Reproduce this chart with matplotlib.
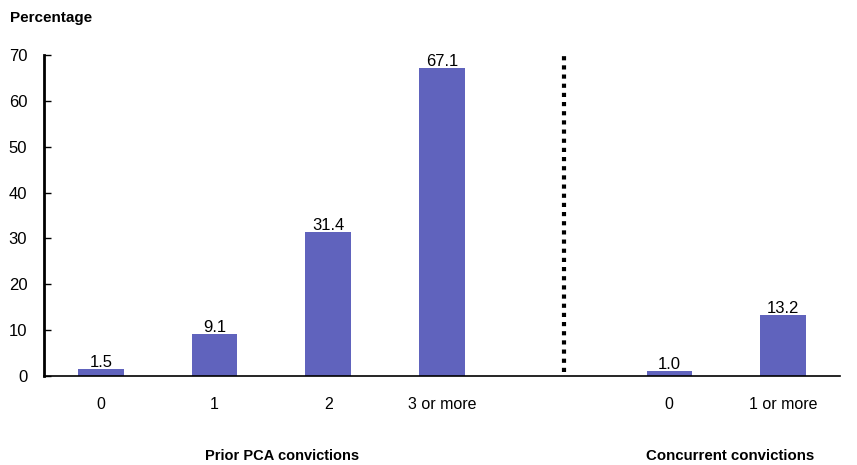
'''Percentage bar chart of prior PCA and concurrent convictions.'''

import matplotlib
matplotlib.use('Agg')
import matplotlib.pyplot as plt

plt.rcParams['font.family'] = ['Liberation Sans', 'DejaVu Sans']

# Data
prior_labels = ['0', '1', '2', '3 or more']
prior_values = [1.5, 9.1, 31.4, 67.1]
concurrent_labels = ['0', '1 or more']
concurrent_values = [1.0, 13.2]
group_titles = ['Prior PCA convictions', 'Concurrent convictions']
y_ticks = [0, 10, 20, 30, 40, 50, 60, 70]

BAR_COLOR = '#6063BD'


def main():
    fig = plt.figure(figsize=(8.57, 4.65), dpi=100)
    ax = fig.add_axes([0.0513, 0.1914, 0.9287, 0.6903])

    # Slot 4 is left empty as a gap between the two groups
    prior_pos = list(range(len(prior_values)))
    conc_pos = [len(prior_values) + 1 + i for i in range(len(concurrent_values))]
    positions = prior_pos + conc_pos
    values = prior_values + concurrent_values
    labels = prior_labels + concurrent_labels

    bars = ax.bar(positions, values, width=0.4, color=BAR_COLOR, zorder=2)
    for bar, val in zip(bars, values):
        ax.text(bar.get_x() + bar.get_width() / 2, val - 0.2,
                '{:.1f}'.format(val), ha='center', va='bottom', fontsize=12)

    # Dotted divider between groups
    ax.plot([4.07, 4.07], [0.8, 70], color='black', linestyle=(0, (1, 1.2)),
            linewidth=3, solid_capstyle='butt')

    ax.set_xlim(-0.5, 6.5)
    ax.set_ylim(0, 70)
    ax.set_yticks(y_ticks)
    ax.set_xticks(positions)
    ax.set_xticklabels(labels)
    ax.tick_params(axis='x', length=0, pad=15, labelsize=11.5)
    ax.tick_params(axis='y', direction='in', length=5, width=1, pad=12,
                   labelsize=12)

    for side in ('top', 'right'):
        ax.spines[side].set_visible(False)
    ax.spines['left'].set_linewidth(2)
    ax.spines['bottom'].set_linewidth(1.2)

    # Group titles below the tick labels
    fig.text(282 / 857, 1 - 456 / 465, group_titles[0], ha='center',
             va='center', fontsize=10.5, fontweight='bold')
    fig.text(730 / 857, 1 - 456 / 465, group_titles[1], ha='center',
             va='center', fontsize=10.8, fontweight='bold')
    fig.text(10 / 857, 1 - 18 / 465, 'Percentage', ha='left', va='center',
             fontsize=11, fontweight='bold')

    fig.savefig('out.png', dpi=100)


if __name__ == "__main__":
    main()
